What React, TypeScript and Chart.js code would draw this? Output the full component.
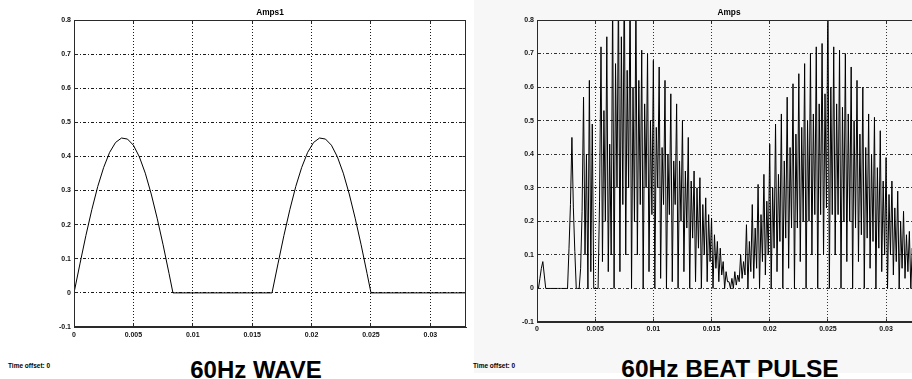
import React, { useEffect, useRef } from "react";
import { Chart, registerables } from "chart.js";

Chart.register(...registerables);

// ---------- shared axis data ----------
const xMin = 0;
const xMax = 0.033;
const yMin = -0.1;
const yMax = 0.8;
const xTicks = [0, 0.005, 0.01, 0.015, 0.02, 0.025, 0.03];
const xTickLabels = ["0", "0.005", "0.01", "0.015", "0.02", "0.025", "0.03"];
const yTicks = [-0.1, 0, 0.1, 0.2, 0.3, 0.4, 0.5, 0.6, 0.7, 0.8];
const yTickLabels = ["-0.1", "0", "0.1", "0.2", "0.3", "0.4", "0.5", "0.6", "0.7", "0.8"];

// ---------- left panel: 60Hz wave (time in s, amps) ----------
const waveTimes = [
  0, 0.0005, 0.001, 0.0015, 0.002, 0.0025, 0.003, 0.0035, 0.004, 0.0045, 0.005, 0.0055,
  0.006, 0.0065, 0.007, 0.0075, 0.008, 0.00833,
  0.01667, 0.01717, 0.01767, 0.01817, 0.01867, 0.01917, 0.01967, 0.02017, 0.02067, 0.02117,
  0.02167, 0.02217, 0.02267, 0.02317, 0.02367, 0.02417, 0.02467, 0.025,
  0.033,
];
const waveValues = [
  0, 0.085, 0.168, 0.244, 0.312, 0.368, 0.412, 0.441, 0.454, 0.451, 0.433, 0.399,
  0.351, 0.29, 0.219, 0.141, 0.057, 0,
  0, 0.085, 0.168, 0.244, 0.312, 0.368, 0.412, 0.441, 0.454, 0.451, 0.433, 0.399,
  0.351, 0.29, 0.219, 0.141, 0.057, 0,
  0,
];

// ---------- right panel: 60Hz beat pulse, sampled every 0.125 ms ----------
const beatSampleStep = 0.000125;
const beatValues = [
  // 0 ms
  0, 0, 0.03, 0.06, 0.08, 0.04, 0, 0,
  // 1 ms
  0, 0, 0, 0, 0, 0, 0, 0,
  // 2 ms
  0, 0, 0, 0, 0, 0, 0.12, 0.25,
  // 3 ms
  0.45, 0.24, 0.11, 0, 0, 0, 0.06, 0.23,
  // 4 ms
  0.57, 0.1, 0.4, 0, 0.62, 0.05, 0.49, 0,
  // 5 ms
  0, 0, 0, 0.26, 0.72, 0.08, 0.53, 0.2,
  // 6 ms
  0.75, 0.05, 0.43, 0.1, 0.88, 0, 0.67, 0.3,
  // 7 ms
  0.9, 0.05, 0.75, 0.25, 0.95, 0.1, 0.65, 0.3,
  // 8 ms
  0.92, 0, 0.6, 0.2, 0.86, 0.1, 0.62, 0.25,
  // 9 ms
  0.71, 0, 0.55, 0.3, 0.7, 0.05, 0.5, 0.22,
  // 10 ms
  0.68, 0, 0.48, 0.3, 0.66, 0.03, 0.42, 0.25,
  // 11 ms
  0.62, 0, 0.4, 0.22, 0.58, 0.02, 0.38, 0.25,
  // 12 ms
  0.55, 0, 0.38, 0.2, 0.5, 0.05, 0.35, 0.18,
  // 13 ms
  0.45, 0, 0.32, 0.15, 0.35, 0.02, 0.3, 0.12,
  // 14 ms
  0.33, 0, 0.25, 0.1, 0.27, 0.02, 0.22, 0.08,
  // 15 ms
  0.21, 0, 0.16, 0.06, 0.14, 0.02, 0.12, 0.04,
  // 16 ms
  0.08, 0, 0.05, 0.02, 0.02, 0, 0.03, 0,
  // 17 ms
  0.05, 0.01, 0.04, 0.02, 0.1, 0.03, 0.08, 0.04,
  // 18 ms
  0.19, 0, 0.14, 0.05, 0.25, 0.03, 0.18, 0.06,
  // 19 ms
  0.31, 0, 0.22, 0.08, 0.34, 0.04, 0.26, 0.1,
  // 20 ms
  0.43, 0, 0.3, 0.12, 0.49, 0.05, 0.34, 0.14,
  // 21 ms
  0.52, 0, 0.38, 0.15, 0.57, 0.06, 0.42, 0.18,
  // 22 ms
  0.61, 0, 0.46, 0.18, 0.64, 0.08, 0.48, 0.2,
  // 23 ms
  0.67, 0, 0.5, 0.2, 0.7, 0.1, 0.52, 0.22,
  // 24 ms
  0.72, 0, 0.55, 0.22, 0.73, 0.1, 0.58, 0.24,
  // 25 ms
  0.88, 0, 0.6, 0.22, 0.72, 0.1, 0.55, 0.22,
  // 26 ms
  0.71, 0, 0.54, 0.2, 0.7, 0.08, 0.52, 0.2,
  // 27 ms
  0.66, 0, 0.5, 0.18, 0.62, 0.08, 0.46, 0.16,
  // 28 ms
  0.6, 0, 0.42, 0.15, 0.52, 0.06, 0.4, 0.14,
  // 29 ms
  0.51, 0, 0.36, 0.12, 0.47, 0.05, 0.32, 0.1,
  // 30 ms
  0.39, 0, 0.28, 0.1, 0.32, 0.04, 0.24, 0.08,
  // 31 ms
  0.29, 0, 0.2, 0.06, 0.23, 0.03, 0.16, 0.05,
  // 32 ms
  0.17, 0, 0.12, 0.04, 0.12, 0.02, 0.08, 0.02,
  // 33 ms
  0.06, 0, 0, 0,
];

const FONT = "'Liberation Sans', Arial, Helvetica, sans-serif";

const framePlugin = {
  id: "matlabFrame",
  afterDraw(chart: any) {
    const { ctx, chartArea: a, scales } = chart;
    const l = Math.floor(a.left) + 0.5;
    const r = Math.floor(a.right) - 0.5;
    const t = Math.floor(a.top) + 0.5;
    const b = Math.floor(a.bottom) - 0.5;
    ctx.save();
    ctx.strokeStyle = "#2a2a2a";
    ctx.lineWidth = 1;
    ctx.setLineDash([]);
    ctx.strokeRect(l, t, r - l, b - t);
    ctx.beginPath();
    for (const v of xTicks) {
      const px = Math.floor(scales.x.getPixelForValue(v)) + 0.5;
      ctx.moveTo(px, b);
      ctx.lineTo(px, b - 3);
      ctx.moveTo(px, t);
      ctx.lineTo(px, t + 3);
    }
    for (const v of yTicks) {
      const py = Math.floor(scales.y.getPixelForValue(v)) + 0.5;
      ctx.moveTo(l, py);
      ctx.lineTo(l + 3, py);
      ctx.moveTo(r, py);
      ctx.lineTo(r - 3, py);
    }
    ctx.stroke();
    ctx.restore();
  },
};

function buildConfig(points: { x: number; y: number }[], o: {
  yAxisWidth: number; xAxisHeight: number; rightPad: number; xLabelPad: number; gridColor: string;
}) {
  const tickFont = { family: FONT, size: 7, weight: "bold" as const };
  return {
    type: "line" as const,
    data: {
      datasets: [
        {
          data: points,
          borderColor: "#000",
          borderWidth: 1,
          pointRadius: 0,
          tension: 0,
          fill: false,
          borderJoinStyle: "round" as const,
        },
      ],
    },
    options: {
      animation: false as const,
      responsive: false,
      events: [],
      layout: { padding: { top: 20, right: o.rightPad, bottom: 0, left: 0 } },
      plugins: {
        legend: { display: false },
        tooltip: { enabled: false },
        title: { display: false },
      },
      scales: {
        x: {
          type: "linear" as const,
          min: xMin,
          max: xMax,
          afterBuildTicks: (ax: any) => {
            ax.ticks = xTicks.map((v) => ({ value: v }));
          },
          afterFit: (ax: any) => {
            ax.height = o.xAxisHeight;
          },
          ticks: {
            callback: (_v: any, i: number) => xTickLabels[i],
            font: tickFont,
            color: "#111",
            padding: o.xLabelPad,
            maxRotation: 0,
            autoSkip: false,
          },
          grid: { color: o.gridColor, lineWidth: 1, drawTicks: false },
          border: { display: true, color: "#2a2a2a", dash: [1, 2] },
        },
        y: {
          type: "linear" as const,
          min: yMin,
          max: yMax,
          afterBuildTicks: (ax: any) => {
            ax.ticks = yTicks.map((v) => ({ value: v }));
          },
          afterFit: (ax: any) => {
            ax.width = o.yAxisWidth;
          },
          ticks: {
            callback: (_v: any, i: number) => yTickLabels[i],
            font: tickFont,
            color: "#111",
            padding: 3,
            autoSkip: false,
          },
          grid: { color: o.gridColor, lineWidth: 1, drawTicks: false },
          border: { display: true, color: "#2a2a2a", dash: [3, 2, 1, 2] },
        },
      },
    },
    plugins: [framePlugin],
  };
}

function Txt(props: { x: number; y: number; size: number; center?: boolean; children: React.ReactNode }) {
  return (
    <div
      style={{
        position: "absolute",
        left: props.x,
        top: props.y,
        fontFamily: FONT,
        fontWeight: 700,
        fontSize: props.size,
        lineHeight: `${props.size}px`,
        whiteSpace: "nowrap",
        color: "#000",
        transform: props.center ? "translateX(-50%)" : undefined,
      }}
    >
      {props.children}
    </div>
  );
}

export default function App() {
  const leftRef = useRef<HTMLCanvasElement>(null);
  const rightRef = useRef<HTMLCanvasElement>(null);

  useEffect(() => {
    const wavePoints = waveTimes.map((t, i) => ({ x: t, y: waveValues[i] }));
    const beatPoints = beatValues.map((v, i) => ({ x: i * beatSampleStep, y: v }));
    const left = new Chart(
      leftRef.current as HTMLCanvasElement,
      buildConfig(wavePoints, { yAxisWidth: 74, xAxisHeight: 18, rightPad: 4, xLabelPad: 4, gridColor: "#1a1a1a" }) as any
    );
    const right = new Chart(
      rightRef.current as HTMLCanvasElement,
      buildConfig(beatPoints, { yAxisWidth: 77, xAxisHeight: 23, rightPad: 4, xLabelPad: 3, gridColor: "#333" }) as any
    );
    return () => {
      left.destroy();
      right.destroy();
    };
  }, []);

  return (
    <div
      style={{
        position: "absolute",
        left: 0,
        top: 0,
        width: 912,
        height: 379,
        overflow: "hidden",
        background: "#fff",
      }}
    >
      <div style={{ position: "absolute", left: 474, top: 0, width: 438, height: 373, background: "#f7f7f7" }} />
      <canvas ref={leftRef} width={470} height={345} style={{ position: "absolute", left: 0, top: 0, width: 470, height: 345 }} />
      <canvas ref={rightRef} width={465} height={345} style={{ position: "absolute", left: 460, top: 0, width: 465, height: 345 }} />
      <Txt x={270} y={7.5} size={8.3} center>Amps1</Txt>
      <Txt x={729} y={7.5} size={8.3} center>Amps</Txt>
      <Txt x={8} y={362.5} size={6.5}>Time offset: 0</Txt>
      <Txt x={473} y={362.5} size={6.5}>Time offset: 0</Txt>
      <Txt x={256} y={357.5} size={24} center>60Hz WAVE</Txt>
      <Txt x={730} y={357} size={24.5} center>60Hz BEAT PULSE</Txt>
    </div>
  );
}
